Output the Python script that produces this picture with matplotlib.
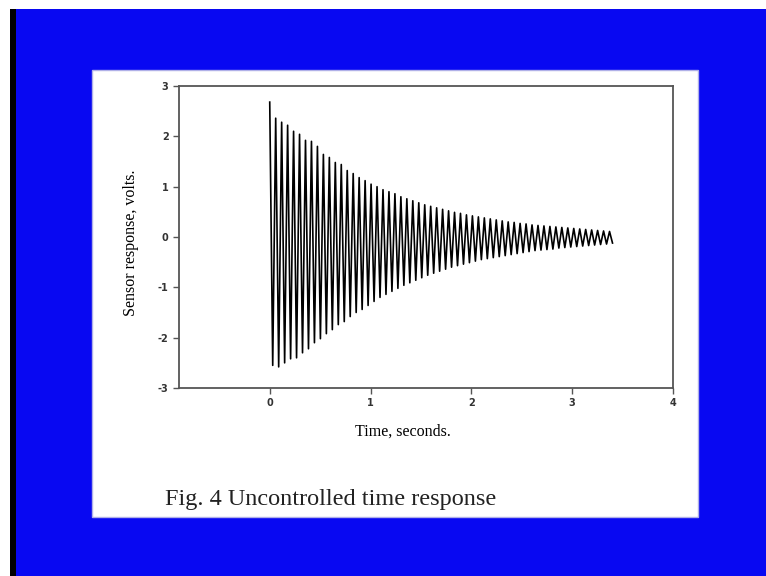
import matplotlib.pyplot as plt
from matplotlib.patches import Rectangle

plt.rcParams['axes.unicode_minus'] = False

# peak values of the decaying response, one upper and one lower per cycle
upper_peaks = [2.68, 2.36, 2.28, 2.22, 2.10, 2.04, 1.92, 1.90, 1.80, 1.64,
               1.58, 1.48, 1.44, 1.32, 1.26, 1.18, 1.12, 1.05, 1.00, 0.94,
               0.90, 0.86, 0.80, 0.76, 0.72, 0.68, 0.64, 0.61, 0.58, 0.55,
               0.52, 0.49, 0.47, 0.44, 0.42, 0.40, 0.38, 0.36, 0.34, 0.32,
               0.30, 0.29, 0.27, 0.26, 0.24, 0.23, 0.22, 0.21, 0.20, 0.19,
               0.18, 0.17, 0.16, 0.15, 0.14, 0.13, 0.12, 0.11]
lower_peaks = [-2.55, -2.58, -2.50, -2.42, -2.40, -2.30, -2.22, -2.10, -2.02, -1.92,
               -1.84, -1.74, -1.68, -1.58, -1.50, -1.44, -1.36, -1.28, -1.20, -1.14,
               -1.08, -1.02, -0.96, -0.91, -0.86, -0.81, -0.76, -0.72, -0.68, -0.64,
               -0.60, -0.57, -0.54, -0.51, -0.48, -0.45, -0.43, -0.41, -0.39, -0.37,
               -0.35, -0.33, -0.31, -0.29, -0.27, -0.26, -0.25, -0.24, -0.22, -0.21,
               -0.20, -0.19, -0.18, -0.17, -0.16, -0.15, -0.14, -0.12]
t_end = 3.4

xticks = [0, 1, 2, 3, 4]
yticks = [-3, -2, -1, 0, 1, 2, 3]

n = len(upper_peaks)
period = t_end / (n - 0.5)
t = []
v = []
for k in range(n):
    t.append(k * period)
    v.append(upper_peaks[k])
    t.append(k * period + period / 2)
    v.append(lower_peaks[k])

W, H = 766, 576
fig = plt.figure(figsize=(W / 100, H / 100), dpi=100, facecolor='white')

# slide background
fig.patches.append(Rectangle((16 / W, 0), 1, 1 - 9 / H, transform=fig.transFigure,
                             facecolor='#0808f2', edgecolor='none', zorder=-3))
fig.patches.append(Rectangle((10 / W, 0), 6 / W, 1 - 9 / H, transform=fig.transFigure,
                             facecolor='black', edgecolor='none', zorder=-3))
fig.patches.append(Rectangle((92 / W, 1 - 517 / H), (698 - 92) / W, (517 - 70) / H,
                             transform=fig.transFigure, facecolor='white',
                             edgecolor='#b0b0e8', linewidth=1, zorder=-2))

ax = fig.add_axes([179 / W, 1 - 388 / H, (673 - 179) / W, (388 - 86) / H])
ax.plot(t, v, color='black', linewidth=1.2)

ax.set_xlim(-0.9, 4)
ax.set_ylim(-3, 3)
ax.set_xticks(xticks)
ax.set_yticks(yticks)
ax.tick_params(direction='out', length=4, width=1, color='#555555',
               labelsize=7, top=False, right=False)
for lab in ax.get_xticklabels() + ax.get_yticklabels():
    lab.set_fontweight('bold')
    lab.set_color('#333333')
for s in ax.spines.values():
    s.set_color('#555555')
    s.set_linewidth(1.3)

fig.text(403 / W, 1 - 432 / H, 'Time, seconds.', ha='center', va='center',
         family='Liberation Serif', fontsize=11.5)
fig.text(131 / W, 1 - 243 / H, 'Sensor response, volts.', ha='center', va='center',
         rotation=90, family='Liberation Serif', fontsize=11.5)
fig.text(165 / W, 1 - 500 / H, 'Fig. 4 Uncontrolled time response', ha='left',
         va='center', family='Liberation Serif', fontsize=17.5, color='#222222')

fig.savefig('out.png', dpi=100, facecolor=fig.get_facecolor())
